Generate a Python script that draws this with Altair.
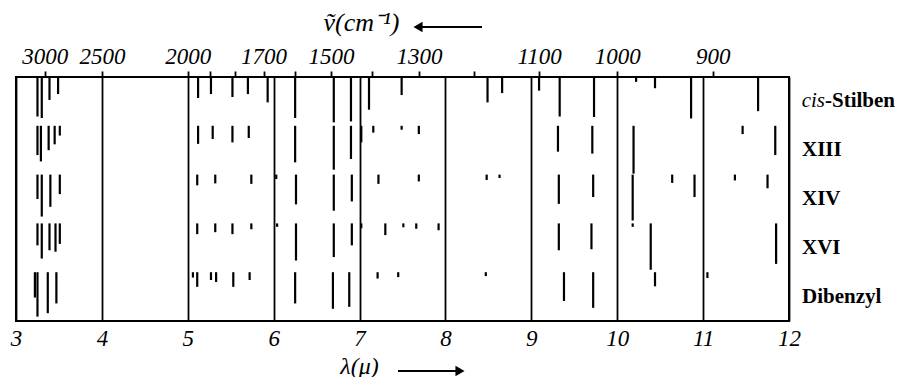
import altair as alt
import pandas as pd

# ---------------- data ----------------
compounds = ["cis-Stilben", "XIII", "XIV", "XVI", "Dibenzyl"]

# wavelength (micron) of each band and relative band depth (fraction of the row height)
cis_lam = [3.25, 3.30, 3.39, 3.49, 5.12, 5.27, 5.52, 5.70, 5.93, 6.25, 6.70, 6.90,
           7.11, 7.49, 8.49, 8.66, 9.09, 9.33, 9.73, 10.22, 10.44, 10.86, 11.64]
cis_int = [0.81, 0.84, 0.47, 0.35, 0.43, 0.35, 0.41, 0.35, 0.52, 0.84, 0.93, 0.91,
           0.67, 0.37, 0.52, 0.33, 0.28, 0.81, 0.82, 0.10, 0.23, 0.85, 0.70]

xiii_lam = [3.25, 3.29, 3.38, 3.45, 3.51, 5.12, 5.29, 5.52, 5.71, 6.25, 6.70, 6.90,
            7.02, 7.16, 7.49, 7.69, 9.31, 9.71, 10.19, 11.46, 11.84]
xiii_int = [0.60, 0.73, 0.50, 0.38, 0.20, 0.37, 0.27, 0.34, 0.25, 0.75, 0.90, 0.68,
            0.34, 0.14, 0.08, 0.17, 0.53, 0.57, 0.98, 0.17, 0.60]

xiv_lam = [3.25, 3.30, 3.40, 3.51, 5.11, 5.32, 5.74, 6.03, 6.26, 6.70, 6.91, 7.22,
           7.69, 8.48, 8.63, 9.32, 9.72, 10.18, 10.64, 10.90, 11.37, 11.75]
xiv_int = [0.50, 0.86, 0.66, 0.40, 0.22, 0.18, 0.19, 0.09, 0.61, 0.74, 0.55, 0.19,
           0.14, 0.11, 0.07, 0.60, 0.46, 0.94, 0.17, 0.46, 0.12, 0.28]

xvi_lam = [3.25, 3.30, 3.39, 3.46, 3.51, 5.11, 5.32, 5.52, 5.74, 6.04, 6.26, 6.70,
           6.91, 7.02, 7.30, 7.51, 7.66, 7.92, 9.32, 9.70, 10.18, 10.39, 11.85]
xvi_int = [0.45, 0.72, 0.55, 0.58, 0.42, 0.22, 0.18, 0.22, 0.12, 0.07, 0.76, 0.69,
           0.45, 0.10, 0.24, 0.08, 0.11, 0.14, 0.55, 0.53, 0.07, 0.95, 0.83]

dib_lam = [3.22, 3.25, 3.37, 3.47, 5.06, 5.11, 5.27, 5.33, 5.53, 5.72, 6.25, 6.69,
           6.88, 7.21, 7.45, 8.47, 9.38, 9.72, 10.44, 11.05]
dib_int = [0.52, 0.91, 0.84, 0.64, 0.11, 0.30, 0.16, 0.20, 0.30, 0.16, 0.64, 0.75,
           0.71, 0.13, 0.10, 0.08, 0.59, 0.73, 0.29, 0.12]

lam_ticks = [3, 4, 5, 6, 7, 8, 9, 10, 11, 12]
nu_ticks = [3000, 2500, 2000, 1900, 1800, 1700, 1600, 1500, 1400, 1300, 1200, 1100, 1000, 900]
nu_labels = [3000, 2500, 2000, 1700, 1500, 1300, 1100, 1000, 900]
row_bounds = [0, 1, 2, 3, 4, 5]

# ---------------- tables ----------------
series = [(cis_lam, cis_int), (xiii_lam, xiii_int), (xiv_lam, xiv_int),
          (xvi_lam, xvi_int), (dib_lam, dib_int)]
rows = []
for r, (lams, ints) in enumerate(series):
    for l, d in zip(lams, ints):
        rows.append({"lam": l, "y0": r, "y1": r + d, "compound": compounds[r]})
df = pd.DataFrame(rows)

top_df = pd.DataFrame({"nu": nu_ticks, "lam": [1e4 / n for n in nu_ticks]})

lab_df = pd.DataFrame({"name": compounds, "yc": [i + 0.5 for i in range(len(compounds))]})
lab_plain = lab_df[lab_df["name"] != "cis-Stilben"]
lab_cis = pd.DataFrame({"a": ["cis"], "b": ["-Stilben"], "yc": [0.5]})
one = pd.DataFrame({"k": [0]})

W, H = 773, 244
AXFONT = "Liberation Sans Narrow"
LBFONT = "Liberation Serif"
LBSIZE = 21

xscale = alt.Scale(domain=[3, 12], nice=False, zero=False)
yscale = alt.Scale(domain=[0, 5], reverse=True, nice=False, zero=False)

lines = alt.Chart(df).mark_rule(color="black", strokeWidth=2.2).encode(
    x=alt.X("lam:Q", scale=xscale,
            axis=alt.Axis(orient="bottom", values=lam_ticks, format="d",
                          grid=True, gridColor="black", gridWidth=1.8, gridOpacity=1,
                          ticks=False, domain=False,
                          labelFont=AXFONT, labelFontSize=23, labelFontStyle="italic",
                          labelColor="black", labelPadding=6, labelFlush=False,
                          labelOverlap=False,
                          title="λ(μ)", titleFont=AXFONT, titleFontSize=24,
                          titleFontStyle="italic", titleFontWeight="normal",
                          titleColor="black", titleX=343, titleY=52,
                          titleBaseline="alphabetic", titleAlign="center")),
    y=alt.Y("y0:Q", scale=yscale,
            axis=alt.Axis(values=row_bounds, grid=True, gridColor="black",
                          gridWidth=1.8, gridOpacity=1, labels=False, ticks=False,
                          domain=False, title="")),
    y2="y1:Q",
)

label_expr = ("indexof(" + str(nu_labels) + ", round(10000/datum.value)) >= 0 ? "
              "format(round(10000/datum.value), 'd') : ''")

top = alt.Chart(top_df).mark_point(opacity=0).encode(
    x=alt.X("lam:Q", scale=xscale,
            axis=alt.Axis(orient="top", values=list(top_df["lam"]), labelExpr=label_expr,
                          grid=False, domain=False, ticks=True, tickSize=6,
                          tickWidth=1.8, tickColor="black",
                          labelFont=AXFONT, labelFontSize=23, labelFontStyle="italic",
                          labelColor="black", labelPadding=3, labelFlush=False,
                          labelOverlap=False,
                          title="ṽ(cm⁻¹)", titleFont=AXFONT, titleFontSize=26,
                          titleFontStyle="italic", titleFontWeight="normal",
                          titleColor="black", titleX=345, titleY=-47,
                          titleBaseline="alphabetic", titleAlign="center")),
)

labels = alt.Chart(lab_plain).mark_text(
    align="left", baseline="middle", font=LBFONT, fontWeight="bold", fontSize=LBSIZE,
    color="black").encode(
    x=alt.value(W + 13),
    y=alt.Y("yc:Q", scale=yscale, axis=None),
    text="name:N",
)

cis_a = alt.Chart(lab_cis).mark_text(
    align="right", baseline="middle", font=LBFONT, fontStyle="italic",
    fontSize=LBSIZE, color="black").encode(
    x=alt.value(W + 36),
    y=alt.Y("yc:Q", scale=yscale, axis=None),
    text="a:N",
)
cis_b = alt.Chart(lab_cis).mark_text(
    align="left", baseline="middle", font=LBFONT, fontWeight="bold", fontSize=LBSIZE,
    color="black").encode(
    x=alt.value(W + 36),
    y=alt.Y("yc:Q", scale=yscale, axis=None),
    text="b:N",
)

# direction arrows next to the two axis titles
top_shaft = alt.Chart(one).mark_rule(color="black", strokeWidth=2).encode(
    x=alt.value(400), x2=alt.value(466), y=alt.value(-50))
top_head = alt.Chart(one).mark_point(shape="triangle-left", filled=True, size=110,
                                     color="black", opacity=1).encode(
    x=alt.value(402), y=alt.value(-50))
bot_shaft = alt.Chart(one).mark_rule(color="black", strokeWidth=2).encode(
    x=alt.value(382), x2=alt.value(446), y=alt.value(294))
bot_head = alt.Chart(one).mark_point(shape="triangle-right", filled=True, size=110,
                                     color="black", opacity=1).encode(
    x=alt.value(444), y=alt.value(294))

chart = alt.layer(lines, top, labels, cis_a, cis_b,
                  top_shaft, top_head, bot_shaft, bot_head).resolve_axis(
    x="independent"
).properties(
    width=W, height=H,
    autosize=alt.AutoSizeParams(type="none"),
    padding={"left": 8, "top": 69, "right": 108, "bottom": 56},
    background="white",
).configure_view(stroke="black", strokeWidth=2)

chart.save("out.html", embed_options={"renderer": "svg", "actions": False})
